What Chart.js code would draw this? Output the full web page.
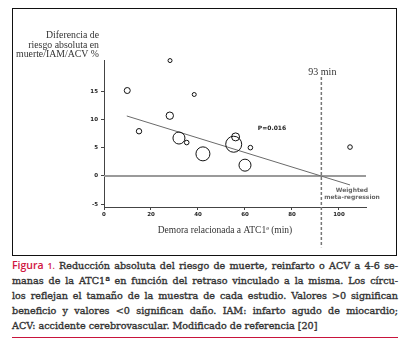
<!DOCTYPE html>
<html>
<head>
<meta charset="utf-8">
<script src="https://cdn.jsdelivr.net/npm/chart.js@4/dist/chart.umd.min.js"></script>
<style>
  body { margin: 0; background: #fff; width: 413px; height: 344px; position: relative; overflow: hidden; }
  #frame { position: absolute; left: 12px; top: 8px; width: 383px; height: 246px; border: 1px solid #111; }
  #c { position: absolute; left: 13px; top: 9px; }
  #cap { position: absolute; left: 12px; top: 258px; width: 386px; font-family: "DejaVu Serif"; font-size: 9.6px; line-height: 15px; color: #333; -webkit-text-stroke: 0.35px #333; }
  #cap .l { display: block; text-align: justify; text-align-last: justify; white-space: nowrap; }
  #cap .last { text-align-last: left; }
  #cap .fig { font-family: "Open Sans"; font-weight: 600; color: #d0163f; font-size: 10.5px; -webkit-text-stroke: 0; }
  #cap .fig small { font-size: 8.5px; }
  #rule { position: absolute; left: 12px; top: 337px; width: 386px; height: 1px; background: #c8143c; }
</style>
</head>
<body>
<div id="frame"></div>
<canvas id="c" width="383" height="246"></canvas>
<div id="cap">
  <span class="l"><span class="fig">Figura <small>1.</small></span> Reducción absoluta del riesgo de muerte, reinfarto o ACV a 4-6 se-</span>
  <span class="l">manas de la ATC1ª en función del retraso vinculado a la misma. Los círcu-</span>
  <span class="l">los reflejan el tamaño de la muestra de cada estudio. Valores &gt;0 significan</span>
  <span class="l">beneficio y valores &lt;0 significan daño. IAM: infarto agudo de miocardio;</span>
  <span class="l last">ACV: accidente cerebrovascular. Modificado de referencia [20]</span>
</div>
<div id="rule"></div>
<script>
// estudios: demora (min), diferencia de riesgo (%), tamaño relativo de muestra (radio)
let delay = [9.9, 28.1, 38.4, 28.0, 14.9, 31.9, 35.2, 42.1, 56.0, 55.2, 62.3, 60.0, 104.7];
let riskDiff = [15.1, 20.4, 14.4, 10.65, 7.9, 6.7, 5.9, 3.9, 6.9, 5.6, 5.0, 1.9, 5.1];
let sampleSize = [3, 2, 2, 3.7, 2.7, 6, 2.3, 7, 4, 8, 2.3, 6, 2.3];

// meta-regresión ponderada (extremos)
let regX = [9.7, 104.7];
let regY = [10.6, -1.6];

let cutoff = 92.5;
let xTicks = [0, 20, 40, 60, 80, 100];
let yTicks = [-5, 0, 5, 10, 15];

let bubbles = delay.map((d, i) => ({ x: d, y: riskDiff[i], r: sampleSize[i] }));
let regLine = regX.map((x, i) => ({ x: x, y: regY[i] }));

const extras = {
  id: 'extras',
  beforeDatasetsDraw(chart) {
    const { ctx, chartArea: a, scales: { x, y } } = chart;
    ctx.save();
    // linea cero
    ctx.strokeStyle = '#9a9a9a';
    ctx.lineWidth = 2;
    ctx.beginPath();
    ctx.moveTo(a.left, y.getPixelForValue(0));
    ctx.lineTo(a.right, y.getPixelForValue(0));
    ctx.stroke();
    // 93 min
    ctx.strokeStyle = '#777';
    ctx.lineWidth = 1.5;
    ctx.setLineDash([3, 2]);
    ctx.beginPath();
    ctx.moveTo(x.getPixelForValue(cutoff), y.getPixelForValue(17.5));
    ctx.lineTo(x.getPixelForValue(cutoff), y.getPixelForValue(-12.6));
    ctx.stroke();
    ctx.restore();
  },
  afterDraw(chart) {
    const { ctx, scales: { x } } = chart;
    ctx.save();
    ctx.fillStyle = '#333';
    ctx.font = '9.8px "Liberation Serif"';
    ctx.textAlign = 'right';
    ctx.textBaseline = 'middle';
    ctx.fillText('Diferencia de', 86, 26);
    ctx.fillText('riesgo absoluta en', 86, 36);
    ctx.fillText('muerte/IAM/ACV %', 86, 45.5);

    ctx.textAlign = 'center';
    ctx.font = '10px "Liberation Serif"';
    ctx.fillText('93 min', x.getPixelForValue(cutoff) + 1, 63);

    ctx.font = '9.5px "Liberation Serif"';
    ctx.fillText('Demora relacionada a ATC1ª (min)', 212, 221);

    ctx.font = 'bold 6px "DejaVu Sans"';
    ctx.fillStyle = '#222';
    ctx.fillText('P=0.016', 259, 119);

    ctx.fillStyle = '#666';
    ctx.fillText('Weighted', 339, 181);
    ctx.fillText('meta-regression', 339, 188.5);
    ctx.restore();
  }
};

new Chart(document.getElementById('c'), {
  type: 'bubble',
  data: {
    datasets: [
      {
        data: bubbles,
        backgroundColor: 'rgba(255,255,255,0)',
        borderColor: '#111',
        borderWidth: 1,
        hoverRadius: 0,
        clip: false
      },
      {
        type: 'line',
        data: regLine,
        borderColor: '#6a6a6a',
        borderWidth: 1,
        pointRadius: 0,
        fill: false
      }
    ]
  },
  options: {
    responsive: false,
    animation: false,
    layout: { padding: { left: 71, right: 30, top: 51, bottom: 28 } },
    plugins: { legend: { display: false }, tooltip: { enabled: false } },
    scales: {
      x: {
        type: 'linear',
        min: 0,
        max: 111.5,
        afterFit: s => { s.height = 20; },
        afterBuildTicks: s => { s.ticks = xTicks.map(v => ({ value: v })); },
        grid: { drawOnChartArea: false, tickLength: 3, color: '#444' },
        border: { color: '#444', width: 1 },
        ticks: { color: '#222', padding: 1, font: { family: 'DejaVu Sans', weight: 'bold', size: 5.5 } }
      },
      y: {
        type: 'linear',
        min: -5.5,
        max: 20.5,
        afterFit: s => { s.width = 20; },
        afterBuildTicks: s => { s.ticks = yTicks.map(v => ({ value: v })); },
        grid: { drawOnChartArea: false, tickLength: 3, color: '#444' },
        border: { color: '#444', width: 1 },
        ticks: { color: '#222', padding: 3, font: { family: 'DejaVu Sans', weight: 'bold', size: 5.5 } }
      }
    }
  },
  plugins: [extras]
});
</script>
</body>
</html>
